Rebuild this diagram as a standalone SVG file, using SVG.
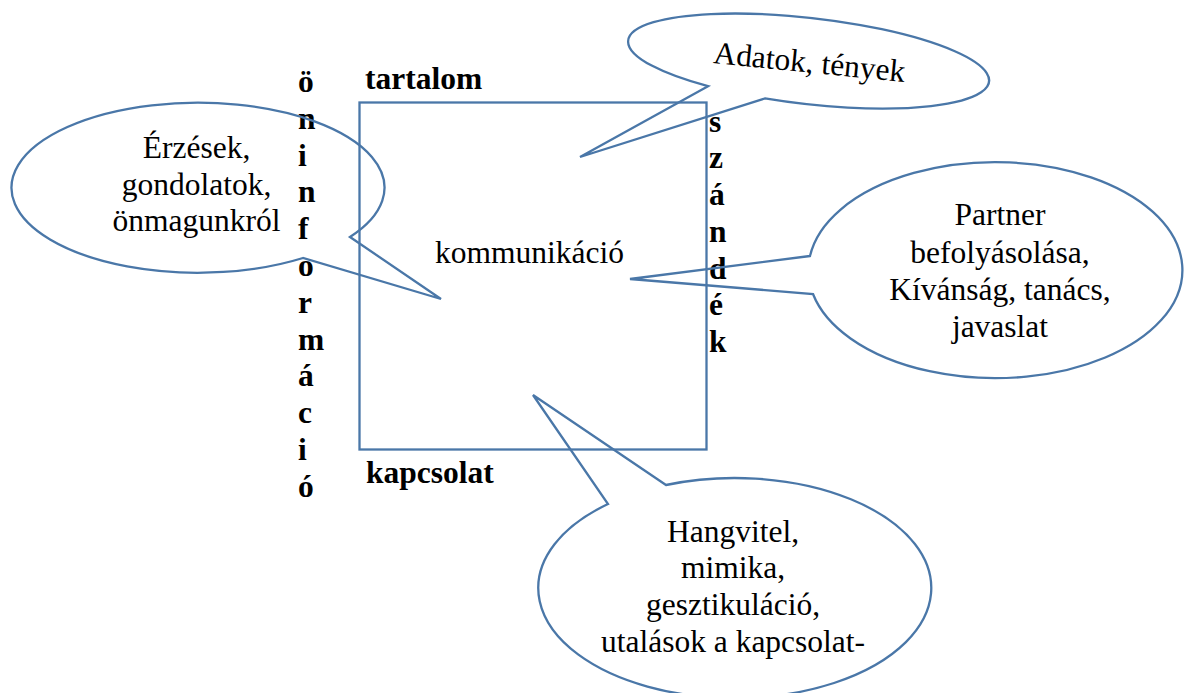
<svg xmlns="http://www.w3.org/2000/svg" width="1184" height="693" viewBox="0 0 1184 693">
<style>
.shape{fill:none;stroke:#4A77A8;stroke-width:2.3;stroke-linejoin:miter}
.t{font-family:"Liberation Serif","Times New Roman",serif;font-size:31.5px;fill:#000}
.c{text-anchor:middle}
.b{font-weight:bold}
</style>
<rect width="1184" height="693" fill="#fff"/>
<g id="main-box">
  <rect class="shape" x="359.5" y="102.5" width="347" height="347"/>
  <text class="t" x="435" y="263">kommunikáció</text>
</g>
<g id="label-tartalom">
  <text class="t b" x="365" y="89">tartalom</text>
</g>
<g id="label-kapcsolat">
  <text class="t b" x="366" y="483">kapcsolat</text>
</g>
<g id="label-oninformacio">
  <text class="t b" x="298" y="92">ö</text>
  <text class="t b" x="298" y="128.8">n</text>
  <text class="t b" x="298" y="165.6">i</text>
  <text class="t b" x="298" y="202.4">n</text>
  <text class="t b" x="298" y="239.2">f</text>
  <text class="t b" x="298" y="276">o</text>
  <text class="t b" x="298" y="312.8">r</text>
  <text class="t b" x="298" y="349.6">m</text>
  <text class="t b" x="298" y="386.4">á</text>
  <text class="t b" x="298" y="423.2">c</text>
  <text class="t b" x="298" y="460">i</text>
  <text class="t b" x="298" y="496.8">ó</text>
</g>
<g id="label-szandek">
  <text class="t b" x="709" y="131.7">s</text>
  <text class="t b" x="709" y="168.4">z</text>
  <text class="t b" x="709" y="205.1">á</text>
  <text class="t b" x="709" y="241.8">n</text>
  <text class="t b" x="709" y="278.5">d</text>
  <text class="t b" x="709" y="315.2">é</text>
  <text class="t b" x="709" y="351.9">k</text>
</g>
<g id="callout-left">
  <path class="shape" d="M350 237 L441 299 L303 258 A186.5 85 0 1 1 350 237 Z"/>
  <text class="t c" x="196.5" y="158">Érzések,</text>
  <text class="t c" x="196.5" y="195">gondolatok,</text>
  <text class="t c" x="196.5" y="231">önmagunkról</text>
</g>
<g id="callout-top">
  <path class="shape" d="M708 86.2 L580 157 L765 98.4 A181.6 43.1 6.5 1 0 708 86.2 Z"/>
  <text class="t c" x="808.5" y="72.5" transform="rotate(5.7 808.5 72.5)">Adatok, tények</text>
</g>
<g id="callout-right">
  <path class="shape" d="M810 256 L630 279 L813 294 A187 108 0 1 0 810 256 Z"/>
  <text class="t c" x="1000" y="225">Partner</text>
  <text class="t c" x="1000" y="263">befolyásolása,</text>
  <text class="t c" x="1000" y="300">Kívánság, tanács,</text>
  <text class="t c" x="1000" y="337">javaslat</text>
</g>
<g id="callout-bottom">
  <path class="shape" d="M666 485 L533 395 L608 504 A196.5 110 0 1 0 666 485 Z"/>
  <text class="t c" x="733" y="542">Hangvitel,</text>
  <text class="t c" x="733" y="578">mimika,</text>
  <text class="t c" x="733" y="615">gesztikuláció,</text>
  <text class="t c" x="733" y="652">utalások a kapcsolat-</text>
</g>
</svg>
